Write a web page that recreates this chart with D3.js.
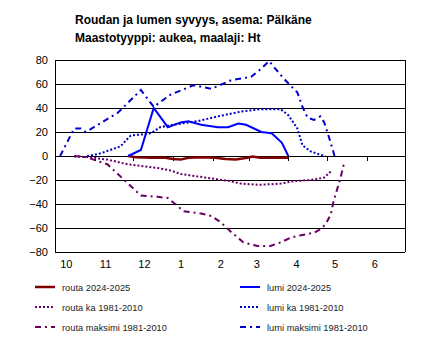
<!DOCTYPE html>
<html>
<head>
<meta charset="utf-8">
<script src="https://cdn.jsdelivr.net/npm/d3@7"></script>
<style>
  body { margin: 0; background: #fff; }
  svg { font-family: "Liberation Sans", Arial, sans-serif; }
</style>
</head>
<body>
<div id="chart"></div>
<script>
// series: [date, depth cm], snow positive, frost negative
const routa2024 = [
  ["2024-11-27", 0], ["2024-12-03", -1], ["2024-12-15", -1.5], ["2024-12-26", -1.5],
  ["2025-01-01", -2.5], ["2025-01-07", -3], ["2025-01-13", -1.5], ["2025-01-23", -1],
  ["2025-02-03", -1.5], ["2025-02-11", -2.5], ["2025-02-19", -3], ["2025-02-28", -1.5],
  ["2025-03-04", -0.5], ["2025-03-10", -1.5], ["2025-03-22", -1.5], ["2025-04-01", -1.5]
];
const lumi2024 = [
  ["2024-11-27", 0], ["2024-12-07", 5], ["2024-12-17", 40], ["2024-12-28", 24],
  ["2025-01-07", 28], ["2025-01-13", 29], ["2025-01-23", 26], ["2025-02-05", 24],
  ["2025-02-13", 24], ["2025-02-21", 27], ["2025-02-27", 26], ["2025-03-11", 20],
  ["2025-03-19", 19], ["2025-03-27", 11], ["2025-04-01", 0]
];
const routaKa = [
  ["2024-10-16", -0.5], ["2024-10-29", -1], ["2024-11-03", -2], ["2024-11-11", -3],
  ["2024-11-19", -5], ["2024-11-27", -7], ["2024-12-05", -8], ["2024-12-20", -10],
  ["2024-12-30", -12], ["2025-01-07", -15], ["2025-01-20", -17], ["2025-02-02", -19],
  ["2025-02-15", -21], ["2025-02-23", -23], ["2025-03-10", -24], ["2025-03-26", -23],
  ["2025-04-05", -21], ["2025-04-18", -20], ["2025-04-29", -18], ["2025-05-04", -13]
];
const lumiKa = [
  ["2024-10-26", 0], ["2024-11-05", 2], ["2024-11-21", 8], ["2024-11-29", 17],
  ["2024-12-15", 19], ["2024-12-22", 24], ["2025-01-01", 26], ["2025-01-20", 29],
  ["2025-02-05", 33], ["2025-02-23", 37], ["2025-03-10", 39], ["2025-03-26", 39],
  ["2025-04-01", 34], ["2025-04-08", 23], ["2025-04-12", 9], ["2025-04-18", 4],
  ["2025-04-26", 1], ["2025-04-30", 0]
];
const routaMax = [
  ["2024-10-16", 0], ["2024-10-26", -1], ["2024-10-31", -3], ["2024-11-11", -7],
  ["2024-11-19", -15], ["2024-11-29", -25], ["2024-12-07", -33], ["2024-12-20", -34],
  ["2024-12-28", -35], ["2025-01-04", -41], ["2025-01-09", -46], ["2025-01-23", -48],
  ["2025-01-31", -50], ["2025-02-07", -55], ["2025-02-15", -63], ["2025-02-25", -72],
  ["2025-03-08", -75], ["2025-03-18", -75], ["2025-03-26", -72], ["2025-04-03", -68],
  ["2025-04-11", -66], ["2025-04-21", -64], ["2025-04-26", -61], ["2025-04-30", -57],
  ["2025-05-04", -49], ["2025-05-06", -39], ["2025-05-09", -28], ["2025-05-12", -17],
  ["2025-05-14", -8], ["2025-05-16", -5]
];
const lumiMax = [
  ["2024-10-05", 0], ["2024-10-16", 23], ["2024-10-21", 23], ["2024-10-25", 20],
  ["2024-11-19", 36], ["2024-12-07", 55], ["2024-12-17", 41], ["2024-12-30", 51],
  ["2025-01-17", 59], ["2025-01-31", 56], ["2025-02-15", 63], ["2025-03-03", 66],
  ["2025-03-10", 72], ["2025-03-17", 79], ["2025-03-28", 65], ["2025-04-08", 53],
  ["2025-04-12", 41], ["2025-04-16", 32], ["2025-04-21", 30], ["2025-04-26", 33],
  ["2025-04-29", 28], ["2025-05-02", 18], ["2025-05-06", 4], ["2025-05-07", 0]
];

const yTicks = [80, 60, 40, 20, 0, -20, -40, -60, -80];
const monthStarts = ["2024-10-01", "2024-11-01", "2024-12-01", "2025-01-01", "2025-02-01",
  "2025-03-01", "2025-04-01", "2025-05-01", "2025-06-01"];
const monthLabels = ["10", "11", "12", "1", "2", "3", "4", "5", "6"];

const titleLines = ["Roudan ja lumen syvyys, asema: Pälkäne", "Maastotyyppi: aukea, maalaji: Ht"];

const series = [
  { name: "routa 2024-2025", data: routa2024, color: "#800000", width: 2.5, dash: null, col: 0, row: 0 },
  { name: "routa ka 1981-2010", data: routaKa, color: "#660066", width: 2, dash: "2,2", col: 0, row: 1 },
  { name: "routa maksimi 1981-2010", data: routaMax, color: "#660066", width: 2, dash: "6,4,2,4", col: 0, row: 2 },
  { name: "lumi 2024-2025", data: lumi2024, color: "#0000ff", width: 2, dash: null, col: 1, row: 0 },
  { name: "lumi ka 1981-2010", data: lumiKa, color: "#0000cc", width: 2, dash: "2,2", col: 1, row: 1 },
  { name: "lumi maksimi 1981-2010", data: lumiMax, color: "#0000cc", width: 2, dash: "6,4,2,4", col: 1, row: 2 }
];

const parse = d3.timeParse("%Y-%m-%d");
const W = 430, H = 352;
const plotLeft = 55, plotRight = 405, plotTop = 60, plotBottom = 252;

const svg = d3.select("#chart").append("svg").attr("width", W).attr("height", H);

let x = d3.scaleTime().domain([parse("2024-10-01"), parse("2025-07-01")]).range([plotLeft, plotRight]);
let y = d3.scaleLinear().domain([-80, 80]).range([plotBottom, plotTop]);

// title
svg.selectAll(".title").data(titleLines).enter().append("text")
  .attr("x", 75).attr("y", (d, i) => 24 + i * 17.5)
  .attr("font-size", 12).attr("font-weight", "bold").attr("fill", "#000")
  .text(d => d);

// gridlines
svg.selectAll(".grid").data(yTicks).enter().append("line")
  .attr("x1", plotLeft).attr("x2", plotRight)
  .attr("y1", d => y(d)).attr("y2", d => y(d))
  .attr("stroke", "#000").attr("stroke-width", 1).attr("shape-rendering", "crispEdges");

// y axis
let yAxis = d3.axisLeft(y).tickValues(yTicks).tickSize(0).tickPadding(7);
let gy = svg.append("g").attr("transform", `translate(${plotLeft},0)`).call(yAxis);
gy.select(".domain").attr("stroke", "#000").attr("shape-rendering", "crispEdges");
gy.selectAll("text").attr("font-size", 11).attr("font-family", "Liberation Sans, Arial, sans-serif");

// right border
svg.append("line").attr("x1", plotRight).attr("x2", plotRight).attr("y1", plotTop).attr("y2", plotBottom)
  .attr("stroke", "#000").attr("shape-rendering", "crispEdges");

// month ticks on zero line
svg.selectAll(".mtick").data(monthStarts.slice(1)).enter().append("line")
  .attr("x1", d => Math.round(x(parse(d))) + 0.5).attr("x2", d => Math.round(x(parse(d))) + 0.5)
  .attr("y1", y(0)).attr("y2", y(0) + 5)
  .attr("stroke", "#000").attr("stroke-width", 1);

// month labels below the plot
svg.selectAll(".mlabel").data(monthStarts).enter().append("text")
  .attr("x", d => x(d3.timeDay.offset(parse(d), 4)))
  .attr("y", plotBottom + 16)
  .attr("font-size", 11).attr("fill", "#000")
  .text((d, i) => monthLabels[i]);

// lines
let line = d3.line().x(d => x(parse(d[0]))).y(d => y(d[1]));

series.forEach(s => {
  svg.append("path").datum(s.data)
    .attr("d", line)
    .attr("fill", "none")
    .attr("stroke", s.color)
    .attr("stroke-width", s.width)
    .attr("stroke-dasharray", s.dash);
});

// legend
let legend = svg.selectAll(".leg").data(series).enter().append("g")
  .attr("transform", s => `translate(${s.col === 0 ? 35 : 240},${287 + s.row * 20})`);

legend.append("line")
  .attr("x1", 0).attr("x2", 20).attr("y1", 0).attr("y2", 0)
  .attr("stroke", s => s.color).attr("stroke-width", s => s.width)
  .attr("stroke-dasharray", s => s.dash);

legend.append("text")
  .attr("x", 27).attr("y", 3.5)
  .attr("font-size", 9.3).attr("fill", "#222")
  .text(s => s.name);
</script>
</body>
</html>
